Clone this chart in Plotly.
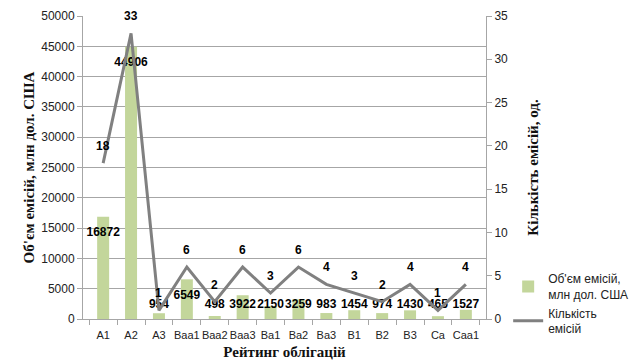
import plotly.graph_objects as go

categories = ["A1", "A2", "A3", "Baa1", "Baa2", "Baa3", "Ba1", "Ba2", "Ba3", "B1", "B2", "B3", "Ca", "Caa1"]
volume = [16872, 44906, 954, 6549, 498, 3922, 2150, 3259, 983, 1454, 974, 1430, 465, 1527]
count = [18, 33, 1, 6, 2, 6, 3, 6, 4, 3, 2, 4, 1, 4]

FONT = "Liberation Sans"
SERIF = "Liberation Serif"
GRID = "#a6a6a6"

fig = go.Figure()
fig.add_trace(go.Bar(
    x=categories, y=volume, name="Об'єм емісій,<br>млн дол. США",
    marker=dict(color="#c3d69b", line=dict(width=0)), width=0.43,
))
fig.add_trace(go.Scatter(
    x=categories, y=count, name="Кількість<br>емісій", yaxis="y2",
    mode="lines", line=dict(color="#808080", width=3),
))

# bar value labels (inside end, kept above the axis)
label_y = [max(v - 2700, 2300) for v in volume]
fig.add_trace(go.Scatter(
    x=categories, y=label_y, mode="text", text=[str(v) for v in volume],
    textfont=dict(family=FONT, size=12, color="black", weight="bold"),
    showlegend=False, hoverinfo="skip",
))
# line value labels above points
for c, n in zip(categories, count):
    fig.add_annotation(x=c, y=n, yref="y2", text=f"<b>{n}</b>", showarrow=False,
                       yshift=17, font=dict(family=FONT, size=12, color="black"))

fig.update_layout(
    width=642, height=363,
    margin=dict(l=83, r=156, t=16, b=44, autoexpand=False),
    paper_bgcolor="white", plot_bgcolor="white",
    font=dict(family=FONT, size=12, color="#222"),
    bargap=0.5,
    xaxis=dict(
        type="category", showline=True, linecolor=GRID, linewidth=1,
        ticks="outside", tickson="boundaries", ticklen=5, tickcolor=GRID,
        tickfont=dict(size=11), tickangle=0, automargin=False, ticklabelstandoff=6,
        title=dict(text="<b>Рейтинг облігацій</b>", font=dict(family=SERIF, size=15, color="#111"), standoff=6),
    ),
    yaxis=dict(
        range=[0, 50000], dtick=5000, tickformat="d", showgrid=True, gridcolor=GRID, gridwidth=1,
        showline=True, linecolor=GRID, ticks="outside", ticklen=5, tickcolor=GRID,
        zeroline=False, tickfont=dict(size=12), automargin=False,
        title=dict(text="<b>Об'єм емісій, млн дол. США</b>", font=dict(family=SERIF, size=15, color="#111"), standoff=2),
    ),
    yaxis2=dict(
        range=[0, 35], dtick=5, overlaying="y", side="right", showgrid=False,
        showline=True, linecolor=GRID, ticks="outside", ticklen=5, tickcolor=GRID,
        zeroline=False, tickfont=dict(size=12), automargin=False,
        title=dict(text="<b>Кількість емісій, од.</b>", font=dict(family=SERIF, size=15, color="#111"), standoff=20),
    ),
    legend=dict(x=1.055, y=0.05, xanchor="left", yanchor="middle", font=dict(size=12, color="#222"),
                bgcolor="rgba(0,0,0,0)", tracegroupgap=14),
)

fig.write_html("out.html")
